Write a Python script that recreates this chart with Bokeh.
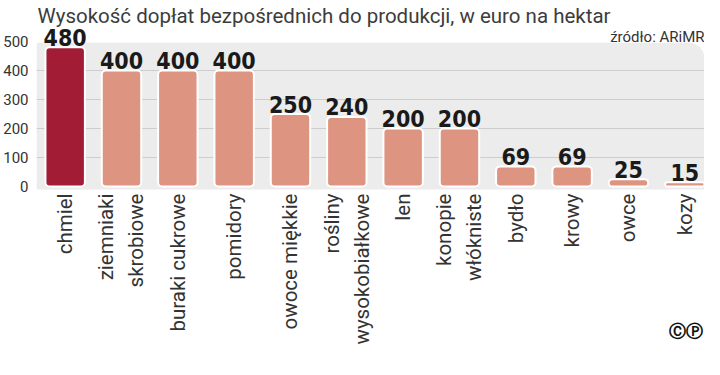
import math
from bokeh.plotting import figure
from bokeh.models import Range1d, FixedTicker, ColumnDataSource, BoxAnnotation
from bokeh.core.properties import value
from bokeh.embed import file_html
from bokeh.resources import INLINE

# ---- data ----
categories = ["chmiel", "ziemniaki\nskrobiowe", "buraki cukrowe", "pomidory",
              "owoce miękkie", "rośliny\nwysokobiałkowe", "len", "konopie\nwłókniste",
              "bydło", "krowy", "owce", "kozy"]
values = [480, 400, 400, 400, 250, 240, 200, 200, 69, 69, 25, 15]
highlight = ["chmiel"]
y_ticks = [0, 100, 200, 300, 400, 500]
grid_values = [100, 200, 300, 400]
title_text = "Wysokość dopłat bezpośrednich do produkcji, w euro na hektar"
source_text = "źródło: ARiMR"
logo_text = "ⒸⓅ"

# ---- style ----
DARK = "#a21c36"
SALMON = "#dd9480"
BG = "#ececec"
GRID = "#cdcdcd"
TXT = "#333333"

XL, XR = -0.509, 11.35
YB, YT = -579.3, 641.4

xs = list(range(len(categories)))
colors = [DARK if c in highlight else SALMON for c in categories]
src = ColumnDataSource(dict(x=xs, value=values, label=[str(v) for v in values],
                            color=colors, cat=categories, zero=[0] * len(xs)))

p = figure(width=704, height=354, output_backend="svg", toolbar_location=None,
           title=None, x_axis_location=None,
           x_range=Range1d(XL, XR), y_range=Range1d(YB, YT),
           min_border_left=28, min_border_right=0, min_border_top=0, min_border_bottom=0)
p.outline_line_color = None
p.background_fill_color = "white"
p.border_fill_color = "white"
p.xgrid.visible = False
p.ygrid.visible = False

# gray panel behind bars
panel = BoxAnnotation(top=496, bottom=-10, level="underlay", fill_color=BG, fill_alpha=1.0,
                      line_color=None, border_radius=(0, 16, 0, 0))
p.add_layout(panel)

p.hspan(y=grid_values, line_color=GRID, line_width=1)

p.vbar(x="x", top="value", width=0.7, fill_color="color", line_color="white",
       line_width=2, border_radius=4, source=src)

# value labels
p.text(x="x", y="value", text="label", source=src,
       text_font=value("DejaVu Sans Condensed"), text_font_style="bold",
       text_font_size="23px", text_color="#1a1a1a",
       text_align="center", text_baseline="alphabetic", y_offset=-10)

# category labels (rotated)
p.text(x="x", y="zero", text="cat", source=src, angle=math.pi / 2,
       text_font=value("Roboto"), text_font_size="20.5px", text_color=TXT,
       text_align="right", text_baseline="middle", text_line_height=1.25,
       y_offset=7)

# title and source
p.text(x=[XL], y=[YT], text=[title_text], text_font=value("Roboto"),
       text_font_size="20.5px", text_color="#3c3c3c", text_align="left",
       text_baseline="alphabetic", x_offset=1, y_offset=15)
p.text(x=[XR], y=[YT], text=[source_text], text_font=value("Roboto"),
       text_font_size="15px", text_color=TXT, text_align="right",
       text_baseline="alphabetic", x_offset=0, y_offset=36)

# logo
p.text(x=[XR], y=[0], text=[logo_text], text_font=value("DejaVu Sans"),
       text_font_style="bold", text_font_size="17px", text_color="#111111",
       text_align="right", text_baseline="alphabetic", x_offset=-2, y_offset=144)

# y axis
p.yaxis.ticker = FixedTicker(ticks=y_ticks)
p.yaxis.axis_line_color = None
p.yaxis.major_tick_line_color = None
p.yaxis.minor_tick_line_color = None
p.yaxis.major_label_standoff = 2
p.yaxis.major_label_text_font = "Roboto"
p.yaxis.major_label_text_font_size = "15px"
p.yaxis.major_label_text_color = TXT

open("out.html", "w").write(file_html(p, INLINE))
